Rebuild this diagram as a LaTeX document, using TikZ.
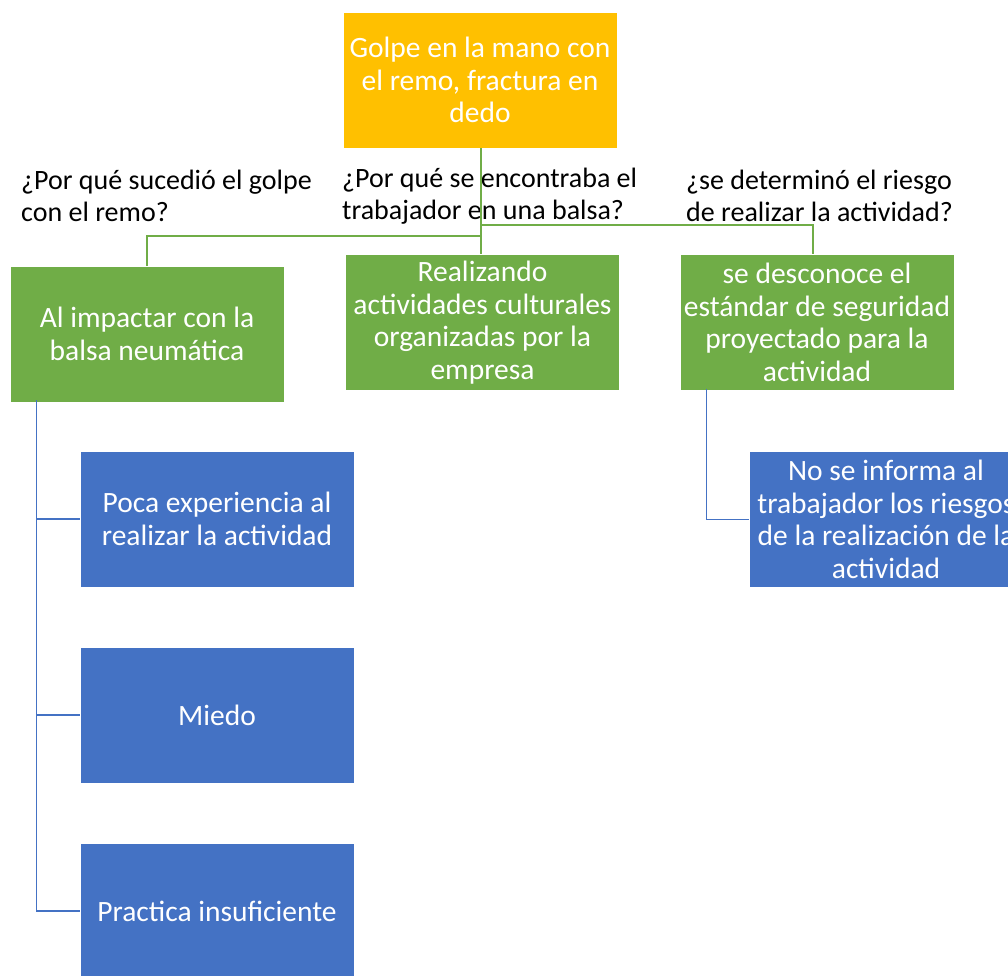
\documentclass[tikz,border=0pt]{standalone}
\usepackage{fontspec}
\setmainfont{Carlito}
\definecolor{orangeF}{HTML}{FFC000}
\definecolor{greenF}{HTML}{70AD47}
\definecolor{blueF}{HTML}{4472C4}
\tikzset{
  box/.style={draw=white, line width=0.8pt, minimum width=274pt, minimum height=136pt,
    inner sep=2pt, align=center, text=white, font={\fontsize{29.5}{32.5}\selectfont}},
  rootbox/.style={box, fill=orangeF},
  greenbox/.style={box, fill=greenF},
  bluebox/.style={box, fill=blueF},
  question/.style={anchor=west, align=left, inner sep=0pt, text=black,
    font={\fontsize{28}{32}\selectfont}},
  gline/.style={draw=greenF, line width=1.6pt},
  bline/.style={draw=blueF, line width=1.6pt},
}
\begin{document}
\begin{tikzpicture}[x=1pt, y=-1pt]
\clip (0,0) rectangle (1008,975);
\fill[white] (0,0) rectangle (1008,975);

% nodes
\node[rootbox]  (root) at (480,80)    {Golpe en la mano con\\el remo, fractura en\\dedo};
\node[greenbox] (g1)   at (147,334)   {Al impactar con la\\balsa neumática};
\node[greenbox] (g2)   at (482.5,322.5) {Realizando\\actividades culturales\\organizadas por la\\empresa};
\node[greenbox] (g3)   at (817,322.5) {se desconoce el\\estándar de seguridad\\proyectado para la\\actividad};
\node[bluebox]  (b1)   at (217,519)   {Poca experiencia al\\realizar la actividad};
\node[bluebox]  (b2)   at (217,715)   {Miedo};
\node[bluebox]  (b3)   at (217,911)   {Practica insuficiente};
\node[bluebox]  (b4)   at (886,519.5) {No se informa al\\trabajador los riesgos\\de la realización de la\\actividad};

% question labels
\node[question] (q1) at (21,196)  {¿Por qué sucedió el golpe\\con el remo?};
\node[question] (q2) at (342,196) {¿Por qué se encontraba el\\trabajador en una balsa?};
\node[question] (q3) at (686,196) {¿se determinó el riesgo\\de realizar la actividad?};

% green connectors
\coordinate (jL) at (481,236);
\coordinate (jR) at (481,225);
\draw[gline] (root.south -| jL) -- (jL |- g2.north);
\draw[gline] (jL) -| (g1.north);
\draw[gline] (jR) -| ([xshift=-4pt]g3.north);

% blue connectors
\coordinate (t1) at ([xshift=27pt, yshift=2pt]g1.south west);
\coordinate (t3) at ([xshift=27pt, yshift=2pt]g3.south west);
\draw[bline] (t1) |- (b1.west);
\draw[bline] (t1) |- (b2.west);
\draw[bline] (t1) |- (b3.west);
\draw[bline] (t3) |- (b4.west);
\end{tikzpicture}
\end{document}
